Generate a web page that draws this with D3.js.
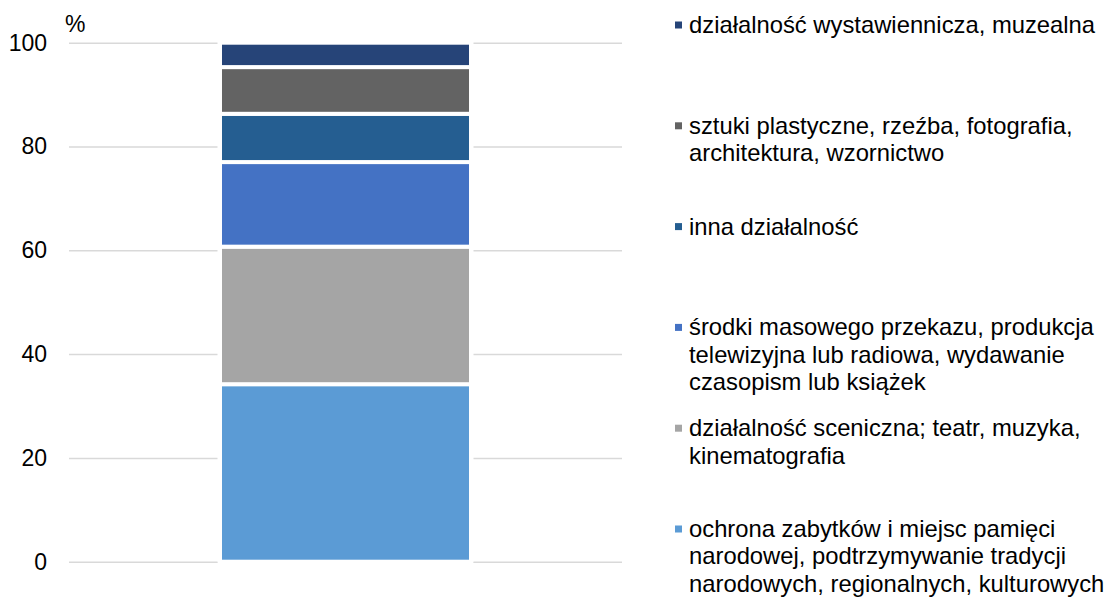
<!DOCTYPE html>
<html>
<head>
<meta charset="utf-8">
<script src="https://cdn.jsdelivr.net/npm/d3@7"></script>
<style>
  html, body { margin: 0; padding: 0; background: #fff; }
  text { font-family: "Liberation Sans", Arial, sans-serif; fill: #000; }
</style>
</head>
<body>
<svg width="1109" height="597"></svg>
<script>
// segments, bottom to top
const categories = [
  "ochrona zabytków i miejsc pamięci\nnarodowej, podtrzymywanie tradycji\nnarodowych, regionalnych, kulturowych",
  "działalność sceniczna; teatr, muzyka,\nkinematografia",
  "środki masowego przekazu, produkcja\ntelewizyjna lub radiowa, wydawanie\nczasopism lub książek",
  "inna działalność",
  "sztuki plastyczne, rzeźba, fotografia,\narchitektura, wzornictwo",
  "działalność wystawiennicza, muzealna"
];
const values = [34.2, 26.5, 16.3, 9.3, 9.0, 4.7];
const colors = ["#5b9bd5", "#a5a5a5", "#4472c4", "#255e91", "#636363", "#264478"];
const yTicks = [0, 20, 40, 60, 80, 100];

/* ----- dimensions ----- */
const margin = { top: 42.7, left: 69 };
const width = 553;
const height = 519;

const svg = d3.select("svg");
const chart = svg.append("g")
  .attr("transform", "translate(" + margin.left + "," + margin.top + ")");

const x = d3.scaleBand().domain(["all"]).range([0, width]).padding(0.3756);
const y = d3.scaleLinear().domain([0, 100]).range([height, 0]);

// gridlines + tick labels
const yAxis = d3.axisLeft(y).tickValues(yTicks).tickSize(-width).tickPadding(22);
const gy = chart.append("g").call(yAxis);
gy.select(".domain").remove();
gy.selectAll(".tick line").attr("stroke", "#d9d9d9").attr("stroke-width", 1.5);
gy.selectAll(".tick text")
  .style("font-family", "Liberation Sans, Arial, sans-serif")
  .style("font-size", "23px")
  .attr("fill", "#000");

chart.append("text")
  .attr("x", -4)
  .attr("y", -11)
  .style("font-size", "23px")
  .text("%");

// stacking
let acc = 0;
const stacked = values.map((v, i) => {
  const s = { y0: acc, y1: acc + v, color: colors[i] };
  acc += v;
  return s;
});

// white backing so gridlines break round the bar
chart.append("rect")
  .attr("x", x("all") - 2.5)
  .attr("width", x.bandwidth() + 5)
  .attr("y", y(100) - 1)
  .attr("height", y(0) - y(100) + 2)
  .attr("fill", "#fff");

chart.selectAll(".seg")
  .data(stacked)
  .enter()
  .append("rect")
  .attr("class", "seg")
  .attr("x", x("all"))
  .attr("width", x.bandwidth())
  .attr("y", (d) => y(d.y1))
  .attr("height", (d) => y(d.y0) - y(d.y1))
  .attr("fill", (d) => d.color)
  .attr("stroke", "#fff")
  .attr("stroke-width", 4);

/* ----- legend (top to bottom) ----- */
const legendData = categories.map((c, i) => ({ label: c, color: colors[i] })).reverse();
const legend = svg.append("g").attr("transform", "translate(675,33)");
const item = legend.selectAll("g")
  .data(legendData)
  .enter()
  .append("g")
  .attr("transform", (d, i) => "translate(0," + i * 100.8 + ")");

item.append("rect")
  .attr("x", 0)
  .attr("y", -11.5)
  .attr("width", 7)
  .attr("height", 7)
  .attr("fill", (d) => d.color);

item.append("text")
  .attr("x", 14)
  .style("font-size", "23.8px")
  .selectAll("tspan")
  .data((d) => d.label.split("\n"))
  .enter()
  .append("tspan")
  .attr("x", 14)
  .attr("dy", (d, i) => (i === 0 ? 0 : 27.4))
  .text((d) => d);
</script>
</body>
</html>
